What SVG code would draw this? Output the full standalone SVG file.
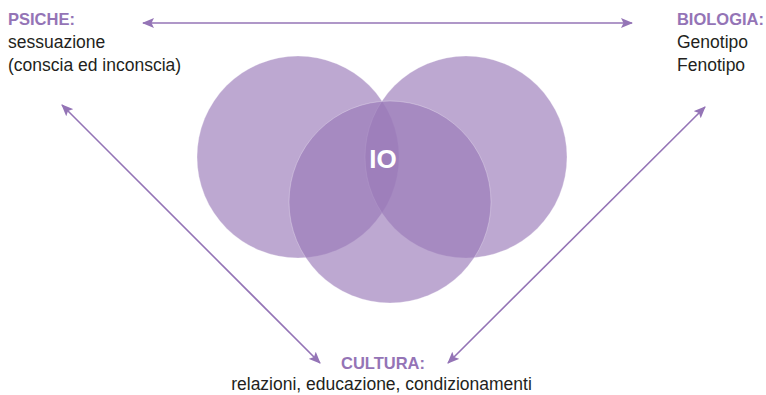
<svg xmlns="http://www.w3.org/2000/svg" width="766" height="395" viewBox="0 0 766 395">
<style>
.c{fill:#9a7ab9;fill-opacity:0.65;stroke:#ffffff;stroke-opacity:0.35;stroke-width:0.8}
.h{font-family:"Liberation Sans",Arial,sans-serif;font-weight:bold;font-size:16.5px;fill:#9474b6}
.t{font-family:"Liberation Sans",Arial,sans-serif;font-size:17.5px;fill:#231f20}
.a{stroke:#9474b6;stroke-width:1.6;fill:none;marker-start:url(#ah);marker-end:url(#ah)}
</style>
<defs>
<marker id="ah" viewBox="0 0 12 10" refX="11" refY="5" markerWidth="12" markerHeight="10" markerUnits="userSpaceOnUse" orient="auto-start-reverse">
<path d="M0,0 L12,5 L0,10 L2.5,5 Z" fill="#9474b6"/>
</marker>
</defs>
<g id="venn">
<circle class="c" cx="298" cy="157" r="101"/>
<circle class="c" cx="466" cy="157" r="101"/>
<circle class="c" cx="390" cy="202" r="101"/>
<text x="383" y="168" text-anchor="middle" font-family="Liberation Sans,Arial,sans-serif" font-weight="bold" font-size="26" fill="#ffffff">IO</text>
</g>
<g id="connectors">
<line class="a" x1="143" y1="23" x2="632" y2="23"/>
<line class="a" x1="62" y1="105" x2="320" y2="363"/>
<line class="a" x1="705" y1="107" x2="448" y2="363"/>
</g>
<g id="psiche">
<text class="h" x="8" y="25">PSICHE:</text>
<text class="t" x="8" y="48">sessuazione</text>
<text class="t" x="8" y="71">(conscia ed inconscia)</text>
</g>
<g id="biologia">
<text class="h" x="764" y="25" text-anchor="end">BIOLOGIA:</text>
<text class="t" x="677" y="48">Genotipo</text>
<text class="t" x="677" y="71">Fenotipo</text>
</g>
<g id="cultura">
<text class="h" x="383" y="369" text-anchor="middle">CULTURA:</text>
<text class="t" x="381.5" y="390" text-anchor="middle">relazioni, educazione, condizionamenti</text>
</g>
</svg>
